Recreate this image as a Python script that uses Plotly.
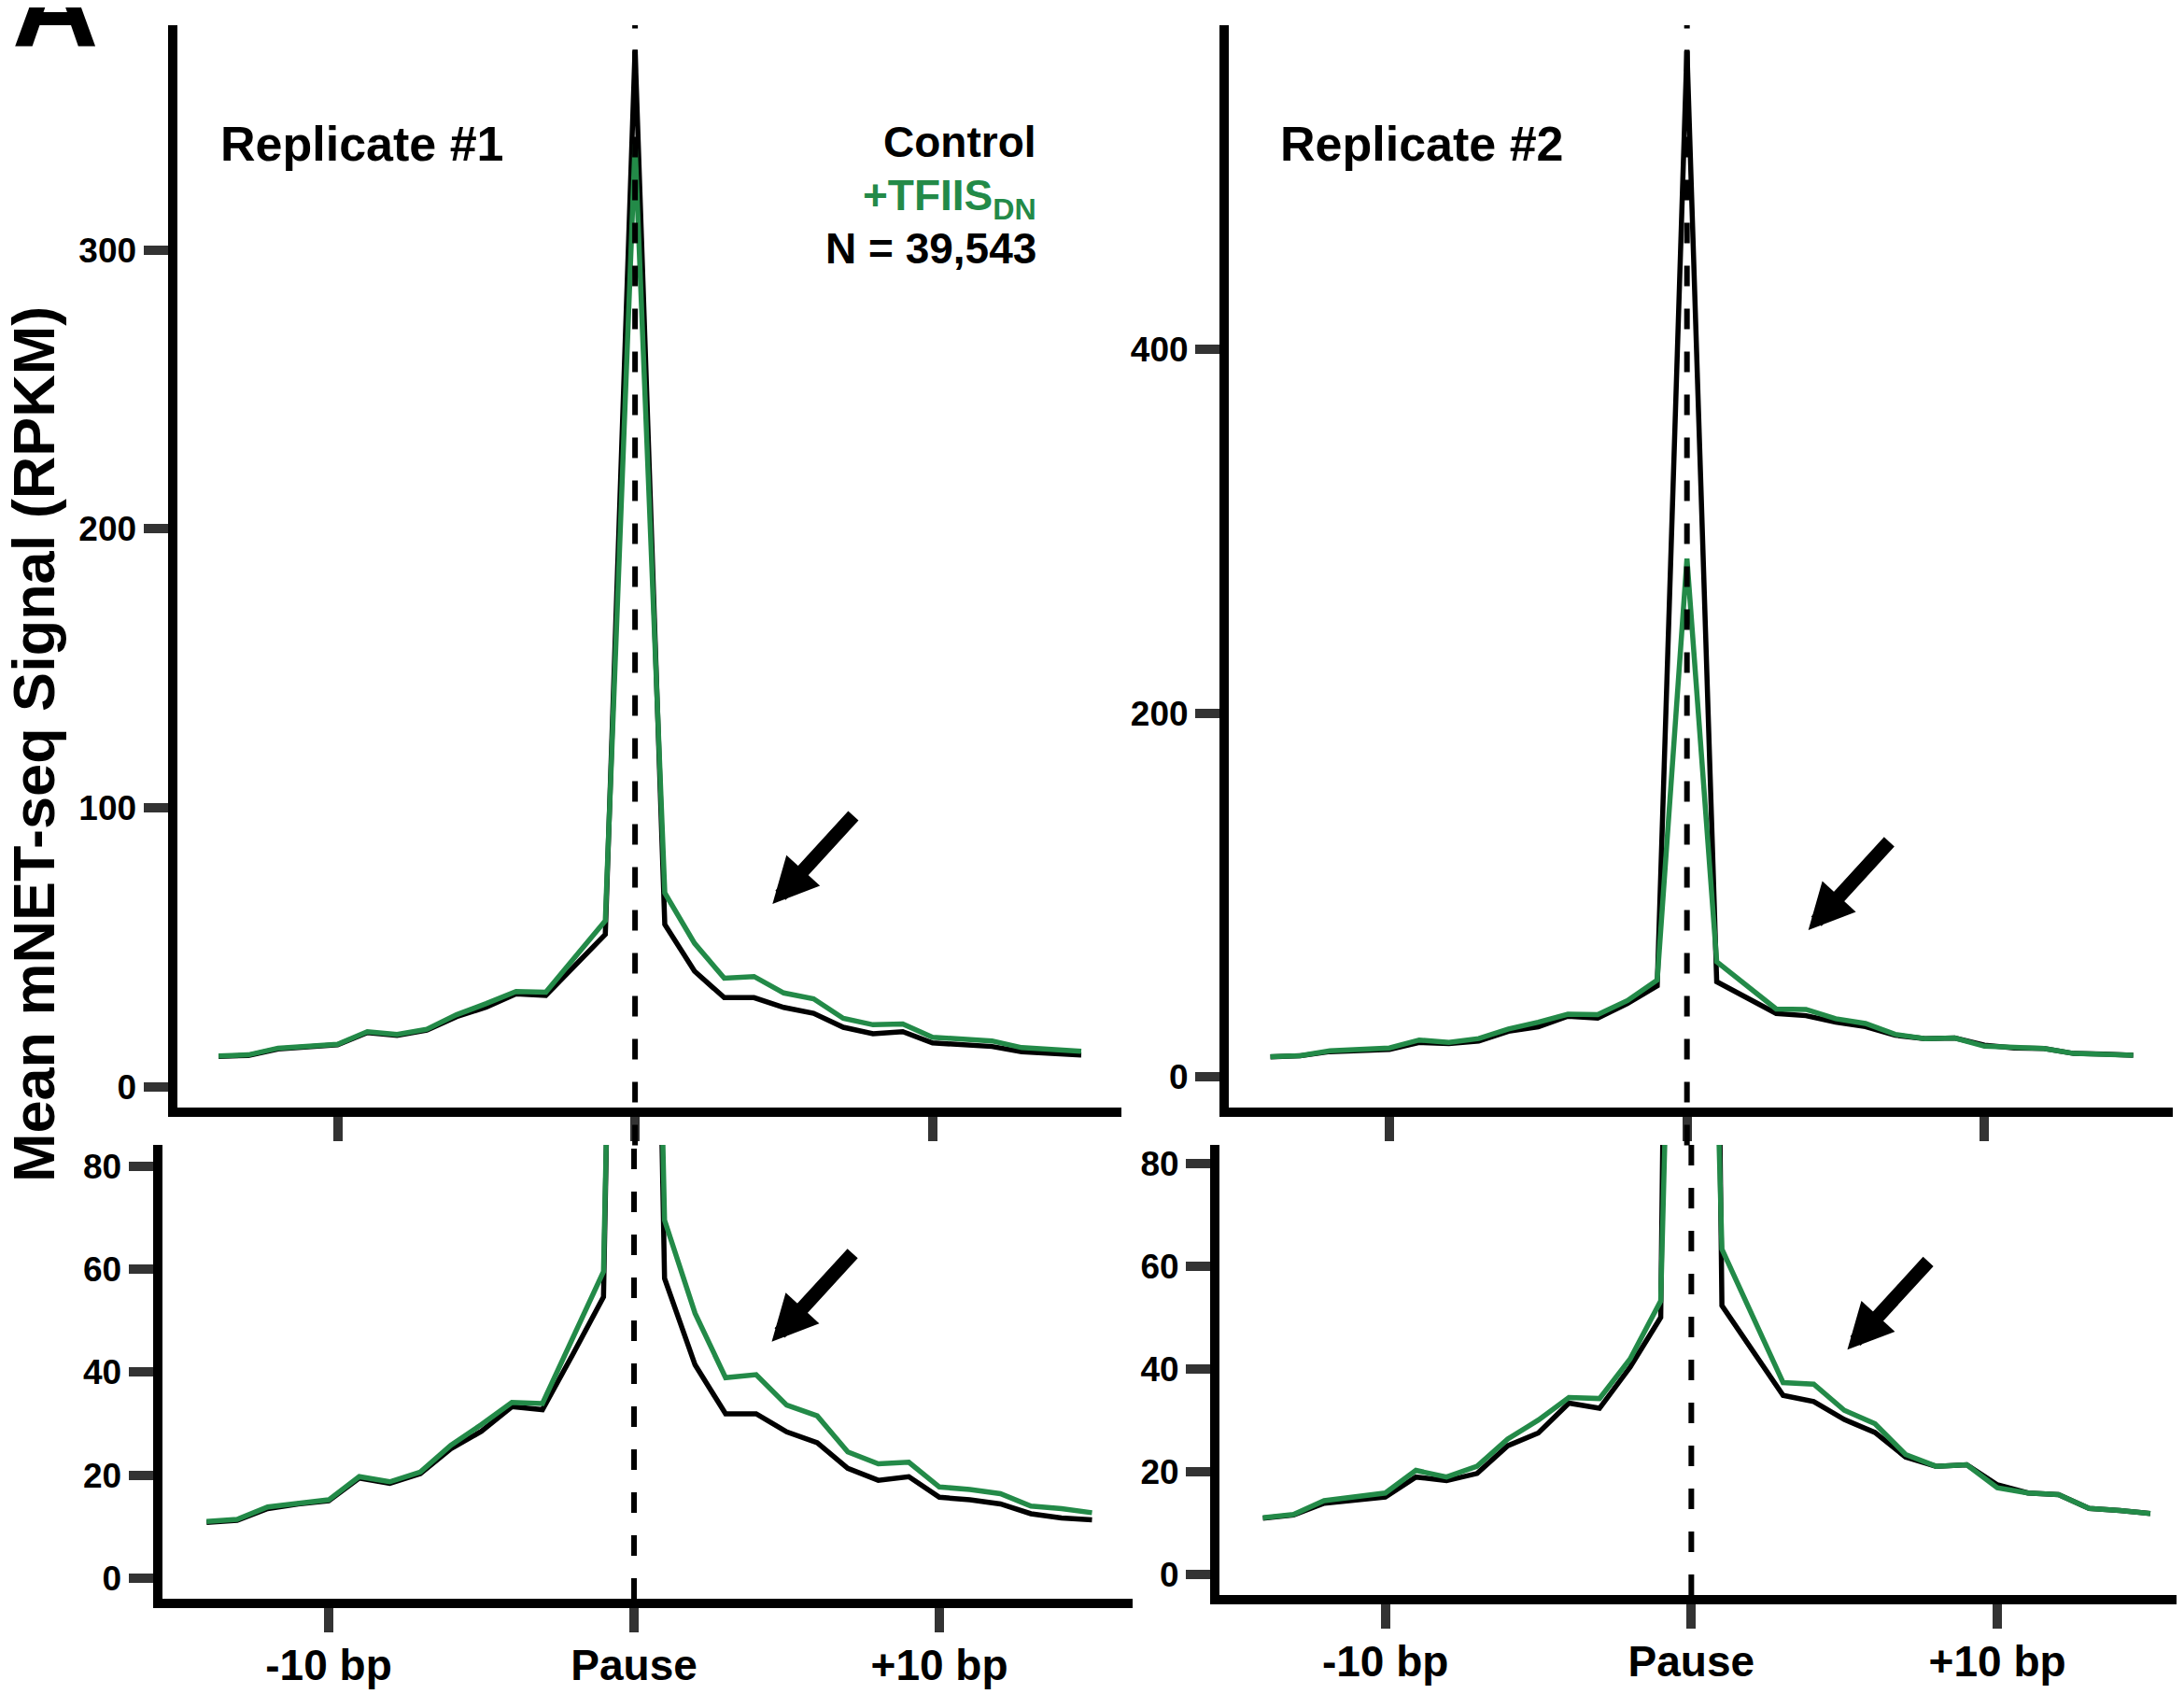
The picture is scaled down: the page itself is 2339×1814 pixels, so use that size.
import plotly.graph_objects as go

# ---------------- data ----------------
positions = list(range(-14, 16))

rep1_control = [10.8, 11.2, 13.5, 14.4, 15.0, 19.4, 18.4, 20.3, 25.1, 28.5,
                33.3, 32.7, 43.5, 54.6, 372.0, 58.2, 41.4, 31.9, 31.9, 28.4,
                26.3, 21.3, 19.0, 19.7, 15.7, 15.2, 14.4, 12.5, 11.7, 11.3]
rep1_tfiis = [11.0, 11.4, 13.8, 14.6, 15.2, 19.7, 18.7, 20.6, 25.8, 29.8,
              34.1, 33.9, 46.5, 59.5, 338.0, 69.5, 51.4, 38.9, 39.5, 33.6,
              31.5, 24.5, 22.2, 22.5, 17.7, 17.2, 16.4, 14.0, 13.5, 12.7]
rep2_control = [10.9, 11.5, 13.8, 14.5, 15.0, 18.9, 18.2, 19.6, 25.0, 27.5,
                33.3, 32.3, 40.3, 50.0, 565.0, 52.3, 43.6, 34.8, 33.6, 30.1,
                27.6, 22.8, 21.0, 21.3, 17.4, 15.8, 15.5, 12.8, 12.4, 11.8]
rep2_tfiis = [11.0, 11.6, 14.3, 15.0, 15.8, 20.2, 18.9, 21.0, 26.3, 30.0,
              34.4, 34.2, 41.9, 53.2, 285.0, 63.3, 50.3, 37.3, 37.0, 31.9,
              29.3, 23.3, 21.0, 21.3, 16.8, 15.8, 15.5, 12.8, 12.4, 11.8]

x_tick_vals = [-10, 0, 10]
x_tick_text = ["-10 bp", "Pause", "+10 bp"]
top1_y_ticks = [0, 100, 200, 300]
top2_y_ticks = [0, 200, 400]
zoom_y_ticks = [0, 20, 40, 60, 80]

panel_titles = ["Replicate #1", "Replicate #2"]
legend_control = "Control"
legend_tfiis = "+TFIIS<sub>DN</sub>"
legend_n = "N = 39,543"
y_title = "Mean mNET-seq Signal (RPKM)"
panel_letter = "A"

# ---------------- style ----------------
W, H = 2339, 1814
OFF = 8  # page body margin compensation
GREEN = "#238a48"
FONT = "Liberation Sans, Arial, sans-serif"


def px(x):
    return (x - OFF) / W


def py(y):
    return 1 - (y - OFF) / H


fig = go.Figure()

panels = [
    ("x", "y", rep1_control, rep1_tfiis),
    ("x2", "y2", rep2_control, rep2_tfiis),
    ("x3", "y3", rep1_control, rep1_tfiis),
    ("x4", "y4", rep2_control, rep2_tfiis),
]
for xa, ya, ctrl, tf in panels:
    fig.add_trace(go.Scatter(x=positions, y=ctrl, mode="lines", xaxis=xa, yaxis=ya,
                             line=dict(color="black", width=5.5), showlegend=False,
                             hoverinfo="skip"))
    fig.add_trace(go.Scatter(x=positions, y=tf, mode="lines", xaxis=xa, yaxis=ya,
                             line=dict(color=GREEN, width=5.5), showlegend=False,
                             hoverinfo="skip"))

axis_common = dict(showline=True, linecolor="black", linewidth=10, showgrid=False,
                   zeroline=False, ticks="outside", ticklen=26, tickwidth=10,
                   tickcolor="#333333", fixedrange=True)
tick_font_y = dict(family=FONT, size=37, color="black", weight="bold")
tick_font_x = dict(family=FONT, size=46, color="black", weight="bold")

top_dom = [py(1186), py(27)]
layout = dict(
    width=W, height=H, margin=dict(l=0, r=0, t=0, b=0),
    paper_bgcolor="white", plot_bgcolor="white",
    font=dict(family=FONT, color="black"),
    xaxis=dict(axis_common, domain=[px(189.5), px(1201)], range=[-15.4, 16.35],
               anchor="y", tickvals=x_tick_vals, showticklabels=False),
    yaxis=dict(axis_common, domain=top_dom, range=[-7.5, 380.7], anchor="x",
               tickvals=top1_y_ticks, tickfont=tick_font_y),
    xaxis2=dict(axis_common, domain=[px(1316), px(2327)], range=[-15.4, 16.33],
                anchor="y2", tickvals=x_tick_vals, showticklabels=False),
    yaxis2=dict(axis_common, domain=top_dom, range=[-16.95, 578.5], anchor="x2",
                tickvals=top2_y_ticks, tickfont=tick_font_y),
    xaxis3=dict(axis_common, domain=[px(173.5), px(1213)], range=[-15.46, 16.33],
                anchor="y3", tickvals=x_tick_vals, ticktext=x_tick_text,
                tickfont=tick_font_x, ticklabelstandoff=-4),
    yaxis3=dict(axis_common, domain=[py(1712), py(1226)], range=[-4.0, 84.1],
                anchor="x3", tickvals=zoom_y_ticks, tickfont=tick_font_y),
    xaxis4=dict(axis_common, domain=[px(1306), px(2339)], range=[-15.42, 16.1],
                anchor="y4", tickvals=x_tick_vals, ticktext=x_tick_text,
                tickfont=tick_font_x, ticklabelstandoff=-4),
    yaxis4=dict(axis_common, domain=[py(1708), py(1226)], range=[-4.07, 83.6],
                anchor="x4", tickvals=zoom_y_ticks, tickfont=tick_font_y),
)
fig.update_layout(**layout)

# dashed pause lines
dash_line = dict(color="black", width=6, dash="22px,24px")
for xr, yr, y0 in [("x", "y domain", -0.035), ("x2", "y2 domain", -0.035),
                   ("x3", "y3 domain", 0), ("x4", "y4 domain", 0)]:
    fig.add_shape(type="line", xref=xr, yref=yr, x0=0, x1=0, y0=y0, y1=1,
                  line=dash_line, layer="above")

annotations = []
# panel letter
annotations.append(dict(text="<b>" + panel_letter + "</b>", xref="paper", yref="paper",
                        x=px(11), y=py(6), xanchor="left", yanchor="middle",
                        showarrow=False, font=dict(family=FONT, size=128, color="black")))
# y axis title
annotations.append(dict(text="<b>" + y_title + "</b>", xref="paper", yref="paper",
                        x=px(36), y=py(797), xanchor="center", yanchor="middle",
                        textangle=-90, showarrow=False,
                        font=dict(family=FONT, size=63, color="black")))
# replicate titles
for t, xl in zip(panel_titles, [234, 1369]):
    annotations.append(dict(text="<b>" + t + "</b>", xref="paper", yref="paper",
                            x=px(xl), y=py(154), xanchor="left", yanchor="middle",
                            showarrow=False, font=dict(family=FONT, size=52, color="black")))
# legend text
for t, yc, col in [(legend_control, 152, "black"), (legend_tfiis, 213, GREEN),
                   (legend_n, 266, "black")]:
    annotations.append(dict(text="<b>" + t + "</b>", xref="paper", yref="paper",
                            x=px(1112), y=py(yc), xanchor="right", yanchor="middle",
                            showarrow=False, font=dict(family=FONT, size=46, color=col)))
# arrows (tip in data coords, tail as pixel offset)
for xr, yr, xt, yt in [("x", "y", 4.62, 65.5), ("x2", "y2", 4.08, 80.7),
                       ("x3", "y3", 4.51, 45.9), ("x4", "y4", 5.1, 43.7)]:
    annotations.append(dict(xref=xr, yref=yr, x=xt, y=yt, ax=88, ay=-96, text="",
                            showarrow=True, arrowhead=2, arrowsize=0.65,
                            arrowwidth=15, arrowcolor="black", standoff=0))
fig.update_layout(annotations=annotations)

fig.write_html("out.html")
